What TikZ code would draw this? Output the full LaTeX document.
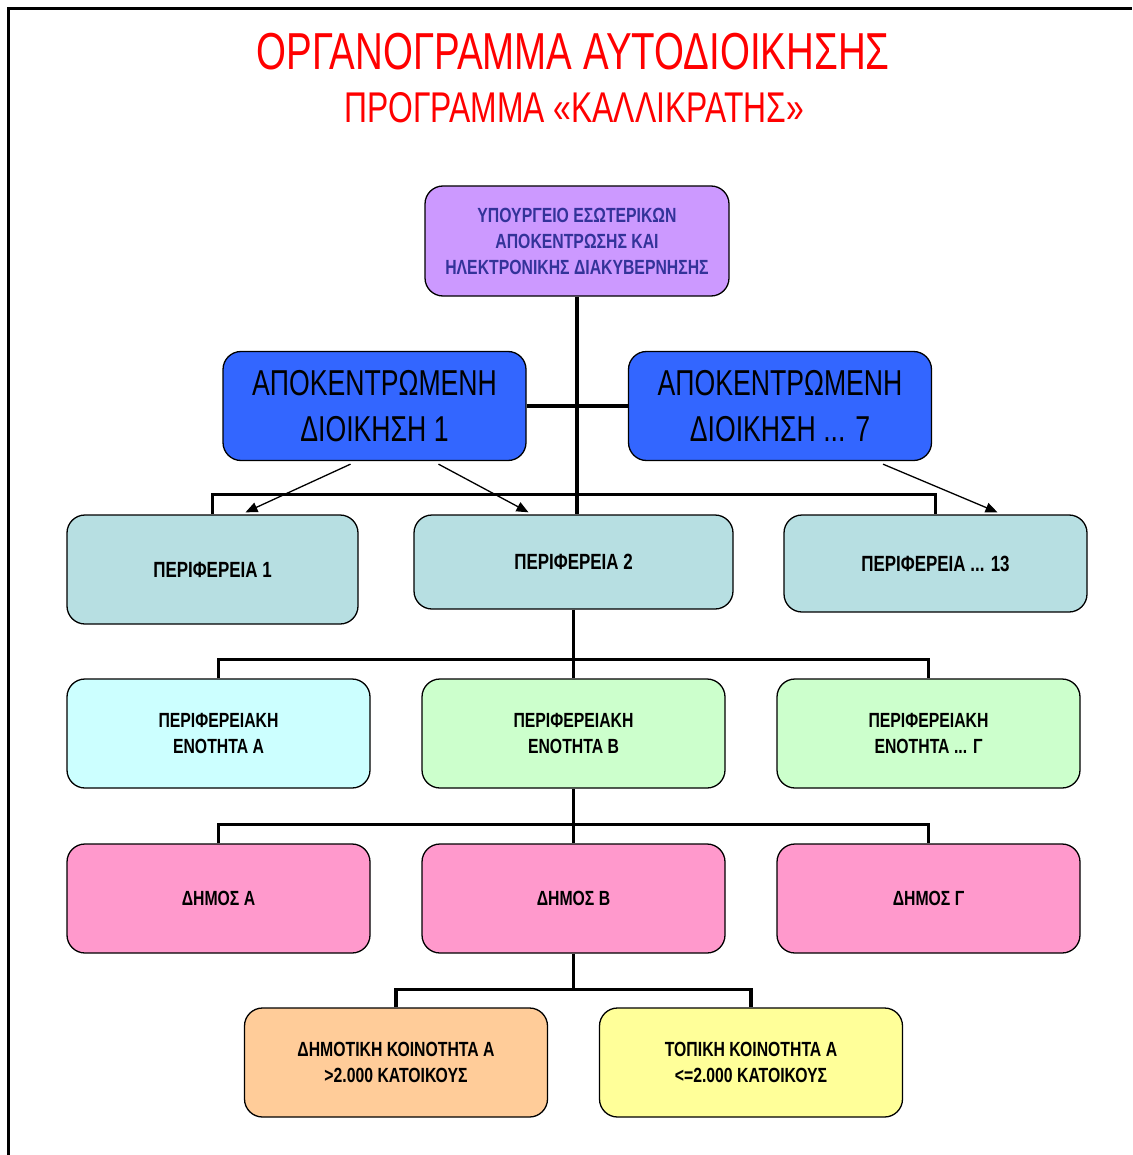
\documentclass[tikz,border=0pt]{standalone}
\usepackage{fontspec}
\setmainfont{Liberation Sans}
\newfontfamily\narrowfont[FakeStretch=0.74]{Liberation Sans}
\newfontfamily\boxfont[FakeStretch=0.77]{Liberation Sans}
\usetikzlibrary{arrows.meta}
\definecolor{mincol}{HTML}{CC99FF}
\definecolor{mintxt}{HTML}{333399}
\definecolor{admcol}{HTML}{3366FF}
\definecolor{percol}{HTML}{B7DFE2}
\definecolor{encyan}{HTML}{CCFFFF}
\definecolor{engreen}{HTML}{CCFFCC}
\definecolor{dimcol}{HTML}{FF99CC}
\definecolor{dkcol}{HTML}{FFCC99}
\definecolor{tkcol}{HTML}{FFFF99}
\begin{document}
\begin{tikzpicture}[x=1pt,y=1pt]
	\tikzstyle{every node}+=[inner sep=0pt]
	\tikzstyle{box}=[draw=black, line width=1.3pt, rounded corners=18pt, minimum width=303pt, minimum height=109pt, align=center, font=\boxfont\bfseries\fontsize{20.5}{26}\selectfont]
	\tikzstyle{perbox}=[box, fill=percol, font=\boxfont\bfseries\fontsize{22}{26}\selectfont]
	\tikzstyle{bigbox}=[box, font=\narrowfont\fontsize{36}{46}\selectfont]
	\tikzstyle{trunk}=[black, line width=3.6pt]
	\tikzstyle{pointer}=[black, line width=1.3pt, -{Triangle[length=12pt,width=10pt]}]
	\useasboundingbox (0,0) rectangle (1132,-1155);
	\draw [black, line width=3pt] (8,-1155) -- (8,-9) -- (1132,-9);
	\node (title) at (573,-70) [anchor=base, red, font=\narrowfont\fontsize{52}{60}\selectfont] {ΟΡΓΑΝΟΓΡΑΜΜΑ ΑΥΤΟΔΙΟΙΚΗΣΗΣ};
	\node (subtitle) at (574,-123) [anchor=base, red, font=\narrowfont\fontsize{43}{50}\selectfont] {ΠΡΟΓΡΑΜΜΑ «ΚΑΛΛΙΚΡΑΤΗΣ»};
	\node (min) at (577,-241) [box, fill=mincol, text=mintxt, minimum width=304pt, minimum height=110pt] {ΥΠΟΥΡΓΕΙΟ ΕΣΩΤΕΡΙΚΩΝ\\ΑΠΟΚΕΝΤΡΩΣΗΣ ΚΑΙ\\ΗΛΕΚΤΡΟΝΙΚΗΣ ΔΙΑΚΥΒΕΡΝΗΣΗΣ};
	\node (adm1) at (374.5,-406) [bigbox, fill=admcol] {ΑΠΟΚΕΝΤΡΩΜΕΝΗ\\ΔΙΟΙΚΗΣΗ 1};
	\node (adm7) at (780,-406) [bigbox, fill=admcol] {ΑΠΟΚΕΝΤΡΩΜΕΝΗ\\ΔΙΟΙΚΗΣΗ ... 7};
	\node (per1) at (212.5,-569.5) [perbox, minimum width=291pt] {ΠΕΡΙΦΕΡΕΙΑ 1};
	\node (per2) at (573.5,-562) [perbox, minimum width=319pt, minimum height=94pt] {ΠΕΡΙΦΕΡΕΙΑ 2};
	\node (per3) at (935.5,-563.5) [perbox, minimum height=97pt] {ΠΕΡΙΦΕΡΕΙΑ ... 13};
	\node (enA) at (218.5,-733.5) [box, fill=encyan] {ΠΕΡΙΦΕΡΕΙΑΚΗ\\ΕΝΟΤΗΤΑ Α};
	\node (enB) at (573.5,-733.5) [box, fill=engreen] {ΠΕΡΙΦΕΡΕΙΑΚΗ\\ΕΝΟΤΗΤΑ Β};
	\node (enG) at (928.5,-733.5) [box, fill=engreen] {ΠΕΡΙΦΕΡΕΙΑΚΗ\\ΕΝΟΤΗΤΑ ... Γ};
	\node (dimA) at (218.5,-898.5) [box, fill=dimcol] {ΔΗΜΟΣ Α};
	\node (dimB) at (573.5,-898.5) [box, fill=dimcol] {ΔΗΜΟΣ Β};
	\node (dimG) at (928.5,-898.5) [box, fill=dimcol] {ΔΗΜΟΣ Γ};
	\node (koinA) at (396,-1062.5) [box, fill=dkcol] {ΔΗΜΟΤΙΚΗ ΚΟΙΝΟΤΗΤΑ Α\\>2.000 ΚΑΤΟΙΚΟΥΣ};
	\node (koinB) at (751,-1062.5) [box, fill=tkcol] {ΤΟΠΙΚΗ ΚΟΙΝΟΤΗΤΑ Α\\<=2.000 ΚΑΤΟΙΚΟΥΣ};
	% tree lines
	\draw [trunk] (min.south) -- (min.south |- per2.north);
	\draw [trunk] (adm1.east) -- (adm7.west);
	\draw [trunk] (per1.north) -- ++(0,20) -| (per3.north);
	\draw [trunk] (per2.south) -- (enB.north);
	\draw [trunk] (enA.north) -- ++(0,19) -| (enG.north);
	\draw [trunk] (enB.south) -- (dimB.north);
	\draw [trunk] (dimA.north) -- ++(0,19) -| (dimG.north);
	\draw [trunk] (dimB.south) -- ++(0,-37);
	\draw [trunk] (koinA.north) -- ++(0,18) -| (koinB.north);
	% arrows
	\draw [pointer] ([xshift=-24,yshift=-3]adm1.south) -- ([xshift=33,yshift=2]per1.north);
	\draw [pointer] ([xshift=64,yshift=-3]adm1.south) -- ([xshift=-45,yshift=2]per2.north);
	\draw [pointer] ([xshift=103,yshift=-3]adm7.south) -- ([xshift=62,yshift=2]per3.north);
\end{tikzpicture}
\end{document}
